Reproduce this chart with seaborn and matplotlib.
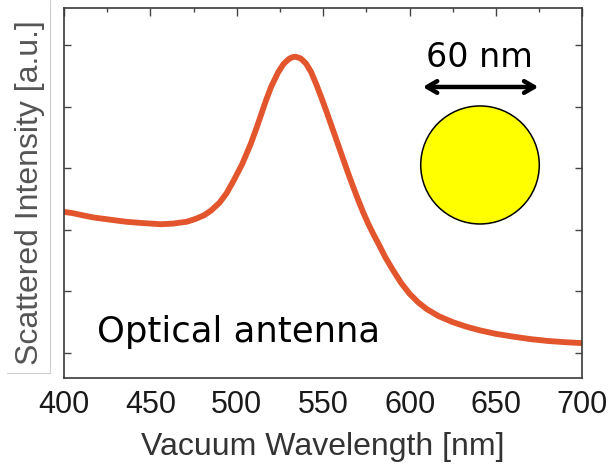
import numpy as np
import pandas as pd
import matplotlib
matplotlib.use("Agg")
import matplotlib.pyplot as plt
import seaborn as sns
from matplotlib.patches import Ellipse
from matplotlib.lines import Line2D

# ---- data ----
wavelength = [400, 405, 410, 417, 425, 436, 445, 456, 463, 471, 476, 481, 485,
              490, 494, 498, 503, 508, 512, 517, 520, 524, 527, 530, 532, 534,
              537, 540, 543, 546, 549, 552, 555, 558, 561, 564, 567, 570, 573,
              576, 579, 582, 586, 590, 595, 600, 605, 610, 617, 625, 633, 641,
              650, 660, 670, 680, 690, 700]
intensity = [2.29, 2.27, 2.24, 2.20, 2.17, 2.13, 2.11, 2.09, 2.10, 2.13, 2.175,
             2.235, 2.31, 2.44, 2.59, 2.79, 3.06, 3.39, 3.70, 4.11, 4.33, 4.56,
             4.69, 4.77, 4.80, 4.81, 4.78, 4.70, 4.56, 4.36, 4.14, 3.91, 3.67,
             3.43, 3.19, 2.95, 2.72, 2.50, 2.29, 2.10, 1.93, 1.77, 1.55, 1.36,
             1.14, 0.96, 0.82, 0.71, 0.595, 0.50, 0.425, 0.365, 0.31, 0.265,
             0.225, 0.195, 0.175, 0.16]
x_ticks = [400, 450, 500, 550, 600, 650, 700]
y_ticks = [0, 1, 2, 3, 4, 5]
x_label = "Vacuum Wavelength [nm]"
y_label = "Scattered Intensity [a.u.]"
inset_label = "Optical antenna"
size_label = "60 nm"

df = pd.DataFrame({"wavelength": wavelength, "intensity": intensity})

sns.set_theme(style="white")
plt.rcParams["font.family"] = ["Liberation Sans", "DejaVu Sans"]

fig = plt.figure(figsize=(6.10, 4.65), dpi=100)
ax = fig.add_axes([0.1049, 0.1871, 0.8500, 0.7957])

sns.lineplot(data=df, x="wavelength", y="intensity", ax=ax, color="#E3552C",
             linewidth=4.2, solid_capstyle="round", solid_joinstyle="round")

ax.set_xlim(400, 700)
ax.set_ylim(-0.406, 5.60)
ax.set_xticks(x_ticks)
ax.set_xticks([425, 475, 525, 575, 625, 675], minor=True)
ax.set_yticks(y_ticks)
ax.set_yticklabels([])

for s in ax.spines.values():
    s.set_color("#3a3a3a")
    s.set_linewidth(1.2)

ax.tick_params(axis="both", which="both", direction="in", top=True, right=True,
               color="#444444", width=1.0)
ax.tick_params(axis="x", which="major", length=6, labelsize=22, pad=9,
               labelcolor="#1a1a1a")
ax.tick_params(axis="x", which="minor", length=3)
ax.tick_params(axis="y", which="major", length=5, left=True)

ax.set_xlabel(x_label, fontsize=23, color="#333333", labelpad=8)
ax.set_ylabel(y_label, fontsize=23, color="#555555")
ax.yaxis.set_label_coords(-0.037, 0.5)

# annotations
ax.text(419, 0.18, inset_label, fontsize=25.5, color="black", family=["DejaVu Sans"],
        ha="left", va="baseline")
ax.text(640.2, 4.64, size_label, fontsize=24, color="black", family=["DejaVu Sans"],
        ha="center", va="baseline")
ax.annotate("", xy=(607.6, 4.318), xytext=(674.5, 4.318),
            arrowprops=dict(arrowstyle="<->,head_length=0.6,head_width=0.35",
                            lw=3.2, color="black", shrinkA=0, shrinkB=0))
ax.add_patch(Ellipse((640.7, 3.052), width=68.6, height=1.916,
                     facecolor="#FFFF00", edgecolor="black", linewidth=1.1))

# light frame from the pasted y-label panel
fig.add_artist(Line2D([49.5 / 610, 49.5 / 610], [1.0, 1 - 373 / 465],
                      color="#cccccc", linewidth=0.8, transform=fig.transFigure))
fig.add_artist(Line2D([7 / 610, 49.5 / 610], [1 - 373 / 465, 1 - 373 / 465],
                      color="#cccccc", linewidth=0.8, transform=fig.transFigure))

fig.savefig("out.png", dpi=100)
